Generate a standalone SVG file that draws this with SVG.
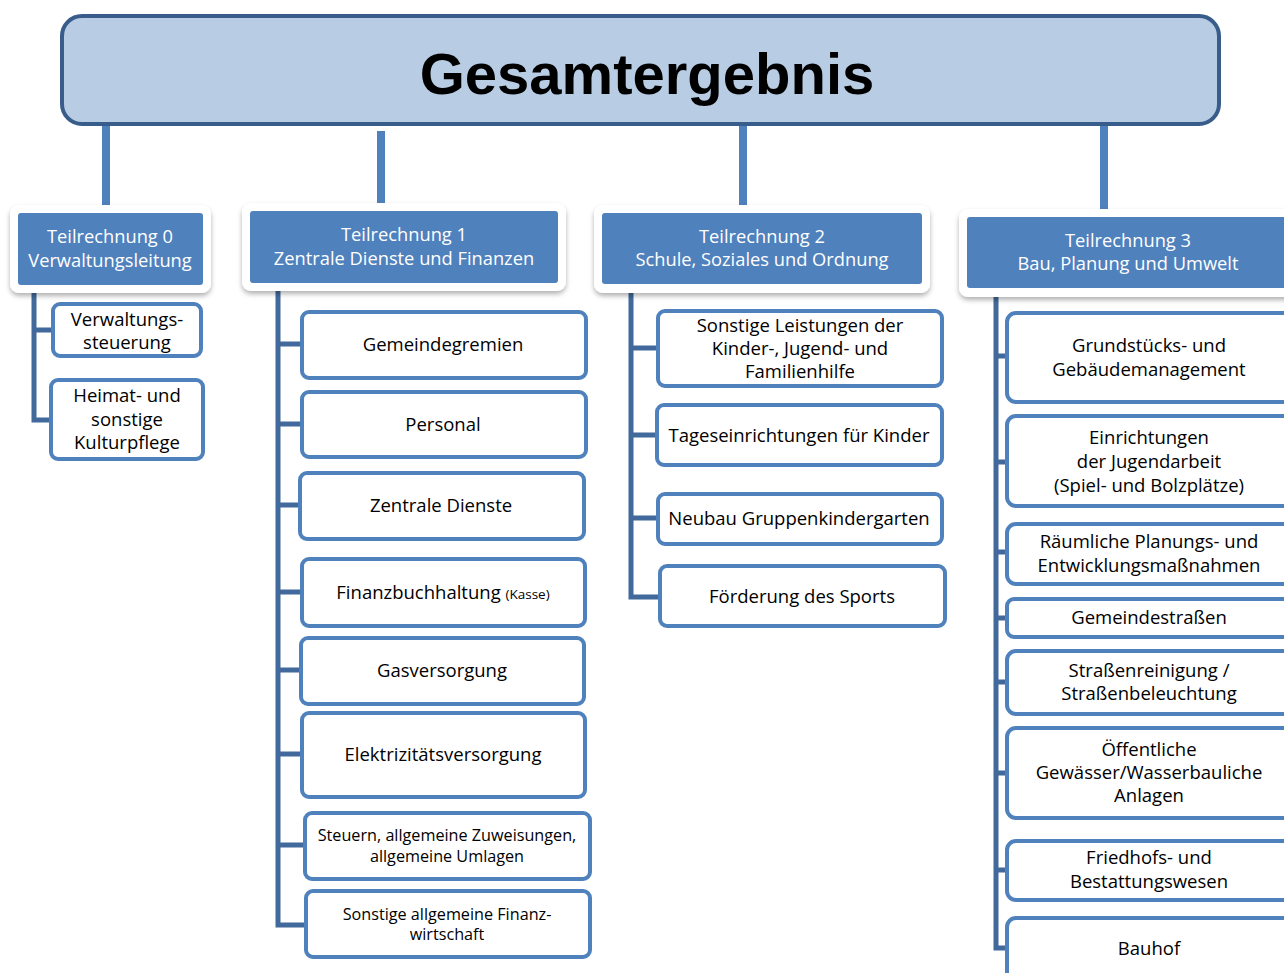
<svg xmlns="http://www.w3.org/2000/svg" width="1284" height="973" viewBox="0 0 1284 973">
<style>
.t{font-family:"Open Sans","Noto Sans","Liberation Sans",sans-serif;font-size:18.5px;fill:#000;text-anchor:middle}
.s{font-size:16.2px}
.h{font-family:"Open Sans","Noto Sans","Liberation Sans",sans-serif;font-size:18.3px;fill:#fff;text-anchor:middle}
.box{fill:#fff;stroke:#4F81BD;stroke-width:4}
.frame{fill:#fff}
.hdr{fill:#4F81BD}
.top{stroke:#4F81BD;stroke-width:8;fill:none}
.br{stroke:#41699B;stroke-width:5;fill:none}
</style>
<defs>
<filter id="sh" x="-10%" y="-20%" width="120%" height="150%">
<feDropShadow dx="0" dy="3" stdDeviation="2.5" flood-color="#000" flood-opacity="0.3"/>
</filter>
</defs>
<rect width="1284" height="973" fill="#fff"/>
<g id="connectors">
<path class="top" d="M106 124V214M381 131V212M743 124V214M1104 124V218"/>
<path class="br" d="M34 290V420H52M34 330H52"/>
<path class="br" d="M278 286V925H304M278 344H300M278 424H300M278 505H298M278 592H300M278 670H299M278 754H300M278 845H303"/>
<path class="br" d="M631 290V597H658M631 348H656M631 435H655M631 518H656"/>
<path class="br" d="M996 292V948H1006M996 356H1005M996 462H1005M996 552H1005M996 618H1005M996 682H1005M996 773H1005M996 870H1005"/>
</g>
<g id="gesamtergebnis">
<rect x="62" y="16" width="1157" height="108" rx="20" fill="#B8CCE4" stroke="#385D8A" stroke-width="4"/>
<text x="647" y="94" font-family="Liberation Sans,Arial,sans-serif" font-size="58" font-weight="bold" text-anchor="middle" fill="#000">Gesamtergebnis</text>
</g>
<g id="tr0">
<rect class="frame" x="10" y="205" width="201" height="88" rx="9" filter="url(#sh)"/>
<rect class="hdr" x="18" y="213" width="185" height="72" rx="3"/>
<text class="h" x="110" y="243">Teilrechnung 0</text>
<text class="h" x="110" y="267">Verwaltungsleitung</text>
</g>
<g id="tr1">
<rect class="frame" x="242" y="203" width="324" height="88" rx="9" filter="url(#sh)"/>
<rect class="hdr" x="250" y="211" width="308" height="72" rx="3"/>
<text class="h" x="404" y="241">Teilrechnung 1</text>
<text class="h" x="404" y="265">Zentrale Dienste und Finanzen</text>
</g>
<g id="tr2">
<rect class="frame" x="594" y="205" width="336" height="88" rx="9" filter="url(#sh)"/>
<rect class="hdr" x="602" y="213" width="320" height="71" rx="3"/>
<text class="h" x="762" y="243">Teilrechnung 2</text>
<text class="h" x="762" y="266">Schule, Soziales und Ordnung</text>
</g>
<g id="tr3">
<rect class="frame" x="959" y="209" width="340" height="88" rx="9" filter="url(#sh)"/>
<rect class="hdr" x="967" y="217" width="330" height="71" rx="3"/>
<text class="h" x="1128" y="247">Teilrechnung 3</text>
<text class="h" x="1128" y="270">Bau, Planung und Umwelt</text>
</g>
<g id="verwaltungssteuerung">
<rect class="box" x="53" y="304" width="148" height="52" rx="7"/>
<text class="t" x="127" y="326">Verwaltungs-</text>
<text class="t" x="127" y="349">steuerung</text>
</g>
<g id="kulturpflege">
<rect class="box" x="51" y="380" width="152" height="79" rx="7"/>
<text class="t" x="127" y="402">Heimat- und</text>
<text class="t" x="127" y="426">sonstige</text>
<text class="t" x="127" y="449">Kulturpflege</text>
</g>
<g id="gemeindegremien">
<rect class="box" x="302" y="312" width="284" height="66" rx="7"/>
<text class="t" x="443" y="351">Gemeindegremien</text>
</g>
<g id="personal">
<rect class="box" x="302" y="392" width="284" height="65" rx="7"/>
<text class="t" x="443" y="431">Personal</text>
</g>
<g id="zentrale-dienste">
<rect class="box" x="300" y="473" width="284" height="66" rx="7"/>
<text class="t" x="441" y="512">Zentrale Dienste</text>
</g>
<g id="finanzbuchhaltung">
<rect class="box" x="302" y="559" width="283" height="67" rx="7"/>
<text class="t" x="443" y="599">Finanzbuchhaltung <tspan font-size="13.5">(Kasse)</tspan></text>
</g>
<g id="gasversorgung">
<rect class="box" x="301" y="638" width="283" height="66" rx="7"/>
<text class="t" x="442" y="677">Gasversorgung</text>
</g>
<g id="elektrizitaet">
<rect class="box" x="302" y="713" width="283" height="84" rx="7"/>
<text class="t" x="443" y="761">Elektrizitätsversorgung</text>
</g>
<g id="steuern">
<rect class="box" x="305" y="813" width="285" height="66" rx="7"/>
<text class="t s" x="447" y="841">Steuern, allgemeine Zuweisungen,</text>
<text class="t s" x="447" y="862">allgemeine Umlagen</text>
</g>
<g id="finanzwirtschaft">
<rect class="box" x="306" y="891" width="284" height="66" rx="7"/>
<text class="t s" x="447" y="920">Sonstige allgemeine Finanz-</text>
<text class="t s" x="447" y="940">wirtschaft</text>
</g>
<g id="familienhilfe">
<rect class="box" x="658" y="311" width="284" height="75" rx="7"/>
<text class="t" x="800" y="332">Sonstige Leistungen der</text>
<text class="t" x="800" y="355">Kinder-, Jugend- und</text>
<text class="t" x="800" y="378">Familienhilfe</text>
</g>
<g id="tageseinrichtungen">
<rect class="box" x="657" y="405" width="285" height="60" rx="7"/>
<text class="t" x="799" y="442">Tageseinrichtungen für Kinder</text>
</g>
<g id="neubau">
<rect class="box" x="658" y="494" width="284" height="50" rx="7"/>
<text class="t" x="799" y="525">Neubau Gruppenkindergarten</text>
</g>
<g id="sport">
<rect class="box" x="660" y="566" width="285" height="60" rx="7"/>
<text class="t" x="802" y="603">Förderung des Sports</text>
</g>
<g id="grundstuecke">
<rect class="box" x="1007" y="313" width="300" height="89" rx="9"/>
<text class="t" x="1149" y="352">Grundstücks- und</text>
<text class="t" x="1149" y="376">Gebäudemanagement</text>
</g>
<g id="jugendarbeit">
<rect class="box" x="1007" y="416" width="300" height="90" rx="9"/>
<text class="t" x="1149" y="444">Einrichtungen</text>
<text class="t" x="1149" y="468">der Jugendarbeit</text>
<text class="t" x="1149" y="492">(Spiel- und Bolzplätze)</text>
</g>
<g id="planung">
<rect class="box" x="1007" y="524" width="300" height="60" rx="9"/>
<text class="t" x="1149" y="548">Räumliche Planungs- und</text>
<text class="t" x="1149" y="572">Entwicklungsmaßnahmen</text>
</g>
<g id="gemeindestrassen">
<rect class="box" x="1007" y="599" width="300" height="38" rx="7"/>
<text class="t" x="1149" y="624">Gemeindestraßen</text>
</g>
<g id="strassenreinigung">
<rect class="box" x="1007" y="651" width="300" height="63" rx="9"/>
<text class="t" x="1149" y="677">Straßenreinigung /</text>
<text class="t" x="1149" y="700">Straßenbeleuchtung</text>
</g>
<g id="gewaesser">
<rect class="box" x="1007" y="728" width="300" height="90" rx="9"/>
<text class="t" x="1149" y="756">Öffentliche</text>
<text class="t" x="1149" y="779">Gewässer/Wasserbauliche</text>
<text class="t" x="1149" y="802">Anlagen</text>
</g>
<g id="friedhof">
<rect class="box" x="1007" y="841" width="300" height="59" rx="9"/>
<text class="t" x="1149" y="864">Friedhofs- und</text>
<text class="t" x="1149" y="888">Bestattungswesen</text>
</g>
<g id="bauhof">
<rect class="box" x="1007" y="918" width="300" height="80" rx="9"/>
<text class="t" x="1149" y="955">Bauhof</text>
</g>
</svg>
